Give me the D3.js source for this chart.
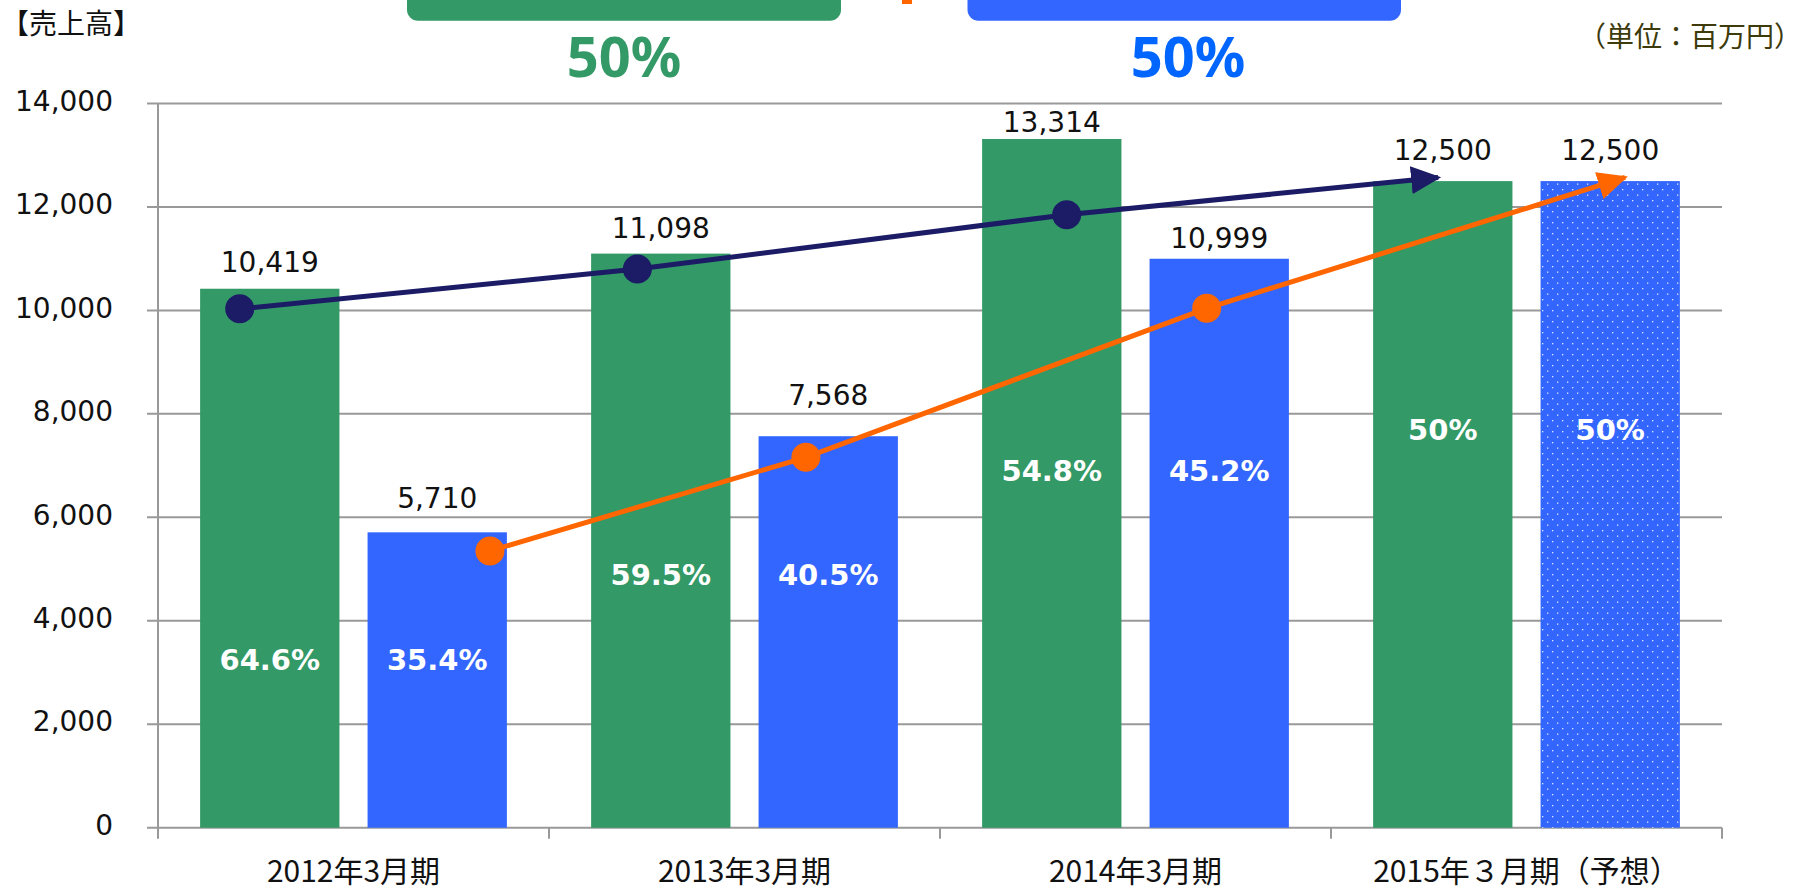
<!DOCTYPE html>
<html>
<head>
<meta charset="utf-8">
<script src="https://cdn.jsdelivr.net/npm/d3@7"></script>
<style>
  body { margin: 0; background: #fff; }
  svg { display: block; }
  .num { font-family: "DejaVu Sans", "Noto Sans", sans-serif; }
  .head { font-family: "Noto Sans", "DejaVu Sans", sans-serif; }
  .jp { font-family: "Noto Sans CJK JP", "Noto Sans", sans-serif; }
</style>
</head>
<body>
<div id="chart"></div>
<script>
// ---- data ----
const years = ["2012年3月期", "2013年3月期", "2014年3月期", "2015年３月期（予想）"];
const greenSales = [10419, 11098, 13314, 12500];
const blueSales = [5710, 7568, 10999, 12500];
const greenShare = ["64.6%", "59.5%", "54.8%", "50%"];
const blueShare = ["35.4%", "40.5%", "45.2%", "50%"];
const forecast = [false, false, false, true];
const yTicks = [0, 2000, 4000, 6000, 8000, 10000, 12000, 14000];
// trend arrows: pos in category units (0..4), value on sales axis
const navyTrend = [
    {pos: 0.209, value: 10030},
    {pos: 1.226, value: 10800},
    {pos: 2.324, value: 11850},
    {pos: 3.274, value: 12570}
];
const orangeTrend = [
    {pos: 0.849, value: 5350},
    {pos: 1.657, value: 7160},
    {pos: 2.682, value: 10040},
    {pos: 3.752, value: 12570}
];
const headerShares = ["50%", "50%"];

// ---- layout ----
const W = 1807, H = 893;
const margin = {top: 103.5, right: 85, bottom: 65.3, left: 158};
const shareLabelAt = [3250, 4900, 6900, 7700];   // vertical centre of % labels (axis units)
const greenLift = [17, 16, 7, 21];               // gap between bar top and value label, px
const blueLift = [24, 31, 11, 21];

const svg = d3.select("#chart").append("svg")
    .attr("width", W)
    .attr("height", H);

const y = d3.scaleLinear()
    .domain([0, 14000])
    .range([H - margin.bottom, margin.top]);

const x0 = d3.scaleBand()
    .domain(years)
    .range([margin.left, W - margin.right]);

const x1 = d3.scaleBand()
    .domain(["green", "blue"])
    .range([0, x0.bandwidth()])
    .paddingInner(0.168)
    .paddingOuter(0.2515);

const xt = d3.scaleLinear()
    .domain([0, years.length])
    .range([margin.left, W - margin.right]);

// pattern for the forecast bar
const defs = svg.append("defs");
const pat = defs.append("pattern")
    .attr("id", "dots")
    .attr("patternUnits", "userSpaceOnUse")
    .attr("width", 10)
    .attr("height", 11);
pat.append("rect").attr("width", 10).attr("height", 11).attr("fill", "#3366ff");
pat.append("rect").attr("x", 2).attr("y", 2).attr("width", 1.3).attr("height", 1.3).attr("fill", "#dfe7ff");
pat.append("rect").attr("x", 7).attr("y", 7.5).attr("width", 1.3).attr("height", 1.3).attr("fill", "#dfe7ff");

function arrowMarker(id, color) {
    defs.append("marker")
        .attr("id", id)
        .attr("markerUnits", "userSpaceOnUse")
        .attr("viewBox", "0 0 30 28")
        .attr("markerWidth", 30)
        .attr("markerHeight", 28)
        .attr("refX", 27)
        .attr("refY", 14)
        .attr("orient", "auto")
        .append("path")
        .attr("d", "M0,0L30,14L0,28Z")
        .attr("fill", color);
}
arrowMarker("arrowNavy", "#1b1b66");
arrowMarker("arrowOrange", "#ff6600");

// header (cut off at the top of the picture)
svg.append("rect")
    .attr("x", 407).attr("y", -20).attr("width", 434).attr("height", 40.7)
    .attr("rx", 11).attr("fill", "#339966");
svg.append("rect")
    .attr("x", 967.5).attr("y", -20).attr("width", 433.5).attr("height", 40.7)
    .attr("rx", 11).attr("fill", "#3366ff");
svg.append("rect")
    .attr("x", 902).attr("y", 0).attr("width", 10).attr("height", 4)
    .attr("fill", "#ff6600");

svg.selectAll(".headShare")
    .data(headerShares)
    .enter()
    .append("text")
    .attr("class", "headShare head")
    .attr("x", (d, i) => i == 0 ? 624 : 1188)
    .attr("y", 77)
    .attr("text-anchor", "middle")
    .style("font-size", "56px")
    .style("font-weight", "bold")
    .attr("fill", (d, i) => i == 0 ? "#339966" : "#0066ff")
    .text(d => d);

svg.append("text")
    .attr("class", "jp")
    .attr("x", 1)
    .attr("y", 34)
    .style("font-size", "28px")
    .attr("fill", "#111")
    .text("【売上高】");

svg.append("text")
    .attr("class", "jp")
    .attr("x", 1802)
    .attr("y", 47)
    .attr("text-anchor", "end")
    .style("font-size", "28px")
    .attr("fill", "#3d3a0c")
    .text("（単位：百万円）");

// gridlines
svg.append("g")
    .selectAll("line")
    .data(yTicks)
    .enter()
    .append("line")
    .attr("x1", margin.left - 11)
    .attr("x2", W - margin.right)
    .attr("y1", d => y(d))
    .attr("y2", d => y(d))
    .attr("stroke", "#999")
    .attr("stroke-width", 2);

// y axis labels
const yAxis = svg.append("g")
    .attr("transform", "translate(" + margin.left + ",0)")
    .call(d3.axisLeft(y).tickValues(yTicks).tickSize(11).tickPadding(34).tickFormat(d3.format(",")));
yAxis.select(".domain").remove();
yAxis.selectAll("line").remove();
yAxis.selectAll("text")
    .attr("class", "num")
    .attr("dy", "0.24em")
    .style("font-size", "28px")
    .attr("fill", "#111");

// y axis line
svg.append("line")
    .attr("x1", margin.left).attr("x2", margin.left)
    .attr("y1", y(14000)).attr("y2", y(0) + 11)
    .attr("stroke", "#999").attr("stroke-width", 2);

// category ticks
svg.append("g")
    .selectAll("line")
    .data(years)
    .enter()
    .append("line")
    .attr("x1", d => x0(d) + x0.bandwidth())
    .attr("x2", d => x0(d) + x0.bandwidth())
    .attr("y1", y(0))
    .attr("y2", y(0) + 11)
    .attr("stroke", "#999").attr("stroke-width", 2);

// category labels
svg.append("g")
    .selectAll("text")
    .data(years)
    .enter()
    .append("text")
    .attr("class", "jp")
    .attr("x", d => x0(d) + x0.bandwidth() / 2)
    .attr("y", 882)
    .attr("text-anchor", "middle")
    .style("font-size", "30px")
    .attr("fill", "#111")
    .text(d => d);

// bars
const bars = svg.append("g");
bars.selectAll(".greenBar")
    .data(greenSales)
    .enter()
    .append("rect")
    .attr("class", "greenBar")
    .attr("x", (d, i) => x0(years[i]) + x1("green"))
    .attr("width", x1.bandwidth())
    .attr("y", d => y(d))
    .attr("height", d => y(0) - y(d))
    .attr("fill", "#339966");

bars.selectAll(".blueBar")
    .data(blueSales)
    .enter()
    .append("rect")
    .attr("class", "blueBar")
    .attr("x", (d, i) => x0(years[i]) + x1("blue"))
    .attr("width", x1.bandwidth())
    .attr("y", d => y(d))
    .attr("height", d => y(0) - y(d))
    .attr("fill", (d, i) => forecast[i] ? "url(#dots)" : "#3366ff");

// value labels
const labels = svg.append("g");
labels.selectAll(".gVal")
    .data(greenSales)
    .enter()
    .append("text")
    .attr("class", "num")
    .attr("x", (d, i) => x0(years[i]) + x1("green") + x1.bandwidth() / 2)
    .attr("y", (d, i) => y(d) - greenLift[i])
    .attr("text-anchor", "middle")
    .style("font-size", "28px")
    .attr("fill", "#111")
    .text(d => d3.format(",")(d));

labels.selectAll(".bVal")
    .data(blueSales)
    .enter()
    .append("text")
    .attr("class", "num")
    .attr("x", (d, i) => x0(years[i]) + x1("blue") + x1.bandwidth() / 2)
    .attr("y", (d, i) => y(d) - blueLift[i])
    .attr("text-anchor", "middle")
    .style("font-size", "28px")
    .attr("fill", "#111")
    .text(d => d3.format(",")(d));

// share labels inside bars
labels.selectAll(".gShare")
    .data(greenShare)
    .enter()
    .append("text")
    .attr("class", "num")
    .attr("x", (d, i) => x0(years[i]) + x1("green") + x1.bandwidth() / 2)
    .attr("y", (d, i) => y(shareLabelAt[i]))
    .attr("dy", "0.36em")
    .attr("text-anchor", "middle")
    .style("font-size", "29px")
    .style("font-weight", "bold")
    .attr("fill", "#fff")
    .text(d => d);

labels.selectAll(".bShare")
    .data(blueShare)
    .enter()
    .append("text")
    .attr("class", "num")
    .attr("x", (d, i) => x0(years[i]) + x1("blue") + x1.bandwidth() / 2)
    .attr("y", (d, i) => y(shareLabelAt[i]))
    .attr("dy", "0.36em")
    .attr("text-anchor", "middle")
    .style("font-size", "29px")
    .style("font-weight", "bold")
    .attr("fill", "#fff")
    .text(d => d);

// trend arrows
const line = d3.line()
    .x(d => xt(d.pos))
    .y(d => y(d.value));

function drawTrend(data, color, marker) {
    svg.append("path")
        .datum(data)
        .attr("d", line)
        .attr("fill", "none")
        .attr("stroke", color)
        .attr("stroke-width", 5)
        .attr("marker-end", "url(#" + marker + ")");

    svg.append("g")
        .selectAll("circle")
        .data(data.slice(0, data.length - 1))
        .enter()
        .append("circle")
        .attr("cx", d => xt(d.pos))
        .attr("cy", d => y(d.value))
        .attr("r", 14.5)
        .attr("fill", color);
}
drawTrend(navyTrend, "#1b1b66", "arrowNavy");
drawTrend(orangeTrend, "#ff6600", "arrowOrange");
</script>
</body>
</html>
